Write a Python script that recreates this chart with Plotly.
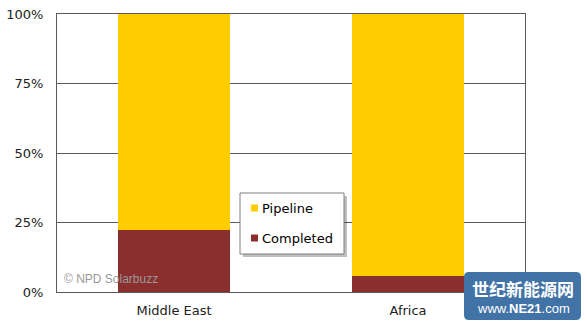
import plotly.graph_objects as go

categories = ["Middle East", "Africa"]
completed = [22.3, 5.9]
pipeline = [77.7, 94.1]
tick_vals = [0, 25, 50, 75, 100]
tick_text = ["0%", "25%", "50%", "75%", "100%"]
legend_names = ["Pipeline", "Completed"]

C_PIPE = "#FFCC00"
C_COMP = "#8B2E2E"
FONT = "DejaVu Sans"

fig = go.Figure()
fig.add_trace(go.Bar(x=categories, y=completed, name="Completed", marker_color=C_COMP,
                     marker_line_width=0, width=0.475, showlegend=False))
fig.add_trace(go.Bar(x=categories, y=pipeline, name="Pipeline", marker_color=C_PIPE,
                     marker_line_width=0, width=0.475, showlegend=False))

W, H = 588, 327
L, R, T, B = 57, 63, 14, 35
pw, ph = W - L - R, H - T - B

def px(x):
    return (x - L) / pw

def py(y):
    return (H - B - y) / ph

shapes = []
# legend shadow and box
shapes.append(dict(type="rect", xref="paper", yref="paper", x0=px(243), x1=px(347), y0=py(257), y1=py(196),
                   fillcolor="rgba(0,0,0,0.25)", line_width=0, layer="above"))
shapes.append(dict(type="rect", xref="paper", yref="paper", x0=px(240), x1=px(344), y0=py(254), y1=py(193),
                   fillcolor="white", line=dict(color="#7f7f7f", width=1), layer="above"))
annotations = []
for name, col, yc in [(legend_names[0], C_PIPE, 208), (legend_names[1], C_COMP, 238)]:
    shapes.append(dict(type="rect", xref="paper", yref="paper", x0=px(251), x1=px(258), y0=py(yc + 3.5), y1=py(yc - 3.5),
                       fillcolor=col, line_width=0, layer="above"))
    annotations.append(dict(xref="paper", yref="paper", x=px(260), y=py(yc), text=name, showarrow=False,
                            xanchor="left", yanchor="middle", font=dict(family=FONT, size=13, color="#000")))

# copyright
annotations.append(dict(xref="paper", yref="paper", x=px(62), y=py(279), text="© NPD Solarbuzz", showarrow=False,
                        xanchor="left", yanchor="middle", font=dict(family="Liberation Sans", size=12, color="#999")))

# watermark logo
x0, x1, y0, y1, r = px(464), px(581), py(320), py(272), 5
rx, ry = r / pw, r / ph
path = (f"M {x0+rx},{y0} L {x1-rx},{y0} Q {x1},{y0} {x1},{y0+ry} L {x1},{y1-ry} Q {x1},{y1} {x1-rx},{y1} "
        f"L {x0+rx},{y1} Q {x0},{y1} {x0},{y1-ry} L {x0},{y0+ry} Q {x0},{y0} {x0+rx},{y0} Z")
shapes.append(dict(type="path", xref="paper", yref="paper", path=path, fillcolor="#4273A6", line_width=0, layer="above"))
annotations.append(dict(xref="paper", yref="paper", x=px(523), y=py(288), text="<b>世纪新能源网</b>", showarrow=False,
                        xanchor="center", yanchor="middle", font=dict(family="Noto Sans CJK SC", size=17, color="white")))
annotations.append(dict(xref="paper", yref="paper", x=px(523), y=py(308), text="www.<b>NE21</b>.com", showarrow=False,
                        xanchor="center", yanchor="middle", font=dict(family="Liberation Sans", size=13, color="white")))

fig.update_layout(
    barmode="stack",
    width=W, height=H,
    margin=dict(l=L, r=R, t=T, b=B, autoexpand=False),
    paper_bgcolor="white", plot_bgcolor="white",
    font=dict(family=FONT, size=13, color="#222"),
    shapes=shapes, annotations=annotations,
    bargap=0.525,
)
fig.update_xaxes(showgrid=False, showline=True, mirror=True, linecolor="#5a5a5a", linewidth=1, automargin=False,
                 ticks="", ticklabelstandoff=6, tickfont=dict(family=FONT, size=13, color="#222"))
fig.update_yaxes(range=[0, 100], tickvals=tick_vals, ticktext=tick_text, showgrid=True, gridcolor="#5a5a5a",
                 gridwidth=1, showline=True, mirror=True, linecolor="#5a5a5a", linewidth=1, zeroline=False,
                 automargin=False, ticks="", ticklabelstandoff=10, tickfont=dict(family=FONT, size=13, color="#222"))

fig.write_html("out.html")
